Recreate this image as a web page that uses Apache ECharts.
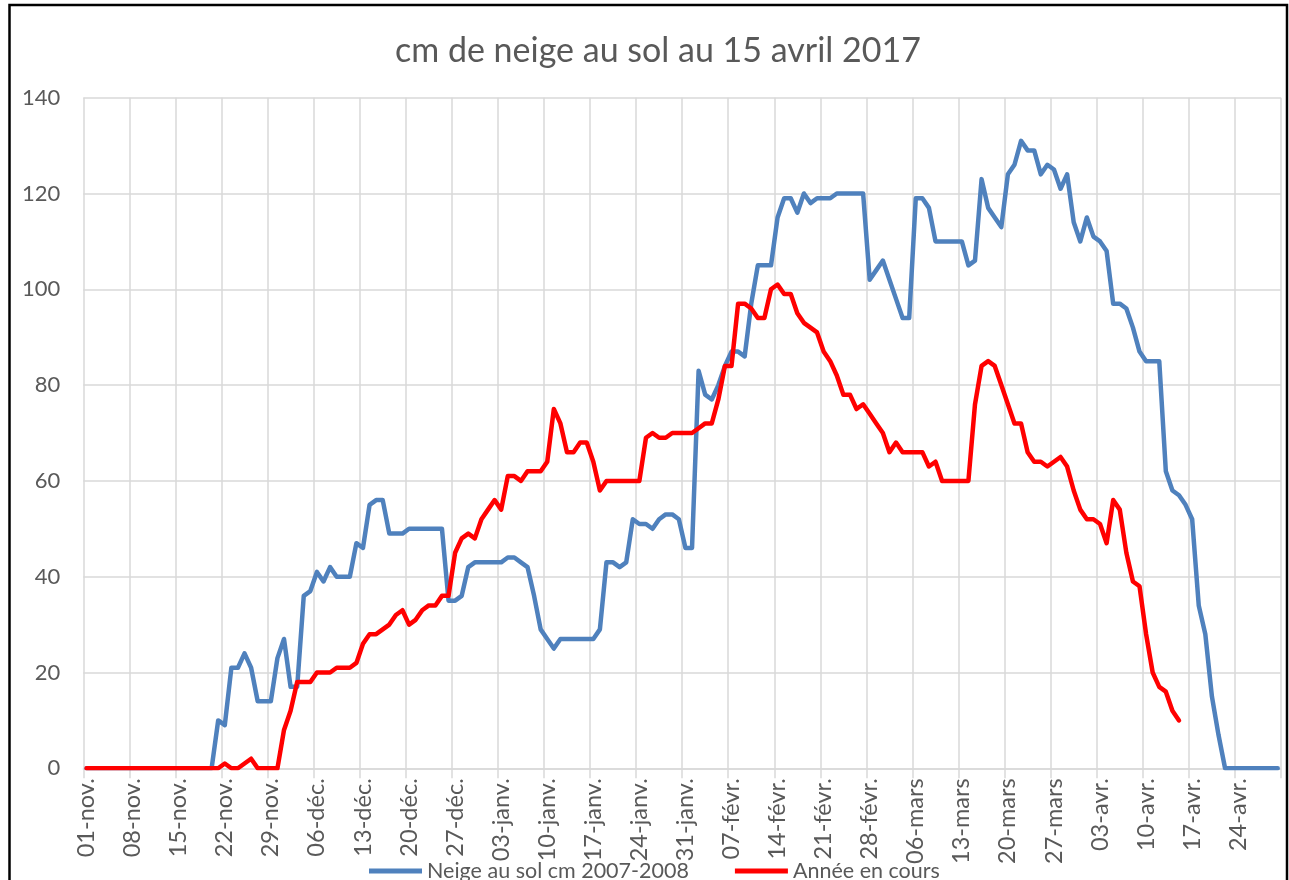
<!DOCTYPE html>
<html>
<head>
<meta charset="utf-8">
<script src="https://cdn.jsdelivr.net/npm/echarts@6/dist/echarts.min.js"></script>
<style>
html,body{margin:0;padding:0;background:#fff;}
#chart{width:1289px;height:880px;}
</style>
</head>
<body>
<div id="chart"></div>
<script>
// Date axis (season 2007-2008, leap year): month labels and lengths
var monthNames = ['nov.', 'déc.', 'janv.', 'févr.', 'mars', 'avr.'];
var monthLengths = [30, 31, 31, 29, 31, 30];

// Y axis
var yMin = 0, yMax = 140, yStep = 20;

// Series names
var nameRef = 'Neige au sol cm 2007-2008';
var nameCur = 'Année en cours';

// Neige au sol cm 2007-2008 (per month, daily)
var refNov = [0,0,0,0,0,0,0,0,0,0,0,0,0,0,0,0,0,0,0,0,10,9,21,21,24,21,14,14,14,23];
var refDec = [27,17,17,36,37,41,39,42,40,40,40,47,46,55,56,56,49,49,49,50,50,50,50,50,50,35,35,36,42,43,43];
var refJan = [43,43,43,44,44,43,42,36,29,27,25,27,27,27,27,27,27,29,43,43,42,43,52,51,51,50,52,53,53,52,46];
var refFeb = [46,83,78,77,80,84,87,87,86,97,105,105,105,115,119,119,116,120,118,119,119,119,120,120,120,120,120,102,104];
var refMar = [106,102,98,94,94,119,119,117,110,110,110,110,110,105,106,123,117,115,113,124,126,131,129,129,124,126,125,121,124,114,110];
var refApr = [115,111,110,108,97,97,96,92,87,85,85,85,62,58,57,55,52,34,28,15,7,0,0,0,0,0,0,0,0,0];

// Année en cours (per month, daily, up to 15 April)
var curNov = [0,0,0,0,0,0,0,0,0,0,0,0,0,0,0,0,0,0,0,0,0,1,0,0,1,2,0,0,0,0];
var curDec = [8,12,18,18,18,20,20,20,21,21,21,22,26,28,28,29,30,32,33,30,31,33,34,34,36,36,45,48,49,48,52];
var curJan = [54,56,54,61,61,60,62,62,62,64,75,72,66,66,68,68,64,58,60,60,60,60,60,60,69,70,69,69,70,70,70];
var curFeb = [70,71,72,72,77,84,84,97,97,96,94,94,100,101,99,99,95,93,92,91,87,85,82,78,78,75,76,74,72];
var curMar = [70,66,68,66,66,66,66,63,64,60,60,60,60,60,76,84,85,84,80,76,72,72,66,64,64,63,64,65,63,58,54];
var curApr = [52,52,51,47,56,54,45,39,38,28,20,17,16,12,10];

// Build categories (one per day)
var categories = [];
for (var m = 0; m < monthNames.length; m++) {
  for (var d = 1; d <= monthLengths[m]; d++) {
    categories.push((d < 10 ? '0' + d : '' + d) + '-' + monthNames[m]);
  }
}
var refData = [].concat(refNov, refDec, refJan, refFeb, refMar, refApr);
var curData = [].concat(curNov, curDec, curJan, curFeb, curMar, curApr);

var FONT = 'Lato';
var GRID = '#D9D9D9';
var TXT = '#595959';

var chart = echarts.init(document.getElementById('chart'), null, {renderer: 'canvas'});
chart.setOption({
  animation: false,
  backgroundColor: '#ffffff',
  title: {
    text: 'cm de neige au sol au 15 avril 2017',
    left: 390,
    top: 29,
    textStyle: {fontFamily: FONT, fontSize: 34, fontWeight: 'normal', color: TXT}
  },
  legend: {
    data: [nameRef, nameCur],
    left: 364,
    top: 855,
    icon: 'rect',
    itemWidth: 53,
    itemHeight: 5,
    itemGap: 46,
    textStyle: {fontFamily: FONT, fontSize: 21.5, color: TXT, lineHeight: 22}
  },
  grid: {left: 83.3, right: 8, top: 97.7, bottom: 111.7, containLabel: false},
  xAxis: {
    type: 'category',
    data: categories,
    boundaryGap: true,
    axisLine: {show: true, lineStyle: {color: GRID, width: 1.5}},
    axisTick: {show: true, interval: 6, length: 10, lineStyle: {color: GRID, width: 1.5}},
    axisLabel: {
      interval: 6, rotate: 90, margin: 10,
      fontFamily: FONT, fontSize: 23.5, color: TXT
    },
    splitLine: {show: true, interval: 6, lineStyle: {color: GRID, width: 1.5}}
  },
  yAxis: {
    type: 'value',
    min: yMin, max: yMax, interval: yStep,
    axisLine: {show: false},
    axisTick: {show: false},
    axisLabel: {margin: 23, fontFamily: FONT, fontSize: 22, color: TXT},
    splitLine: {show: true, lineStyle: {color: GRID, width: 1.5}}
  },
  series: [
    {
      name: nameRef, type: 'line', data: refData, showSymbol: false, symbol: 'none',
      color: '#4F81BD',
      lineStyle: {color: '#4F81BD', width: 4.5, join: 'round', cap: 'round'}
    },
    {
      name: nameCur, type: 'line', data: curData, showSymbol: false, symbol: 'none',
      color: '#FF0000',
      lineStyle: {color: '#FF0000', width: 4.5, join: 'round', cap: 'round'}
    }
  ],
  graphic: [{
    type: 'rect',
    shape: {x: 9.5, y: 5, width: 1277.5, height: 900},
    style: {fill: 'none', stroke: '#000', lineWidth: 2.5},
    silent: true,
    z: 100
  }]
});
</script>
</body>
</html>
